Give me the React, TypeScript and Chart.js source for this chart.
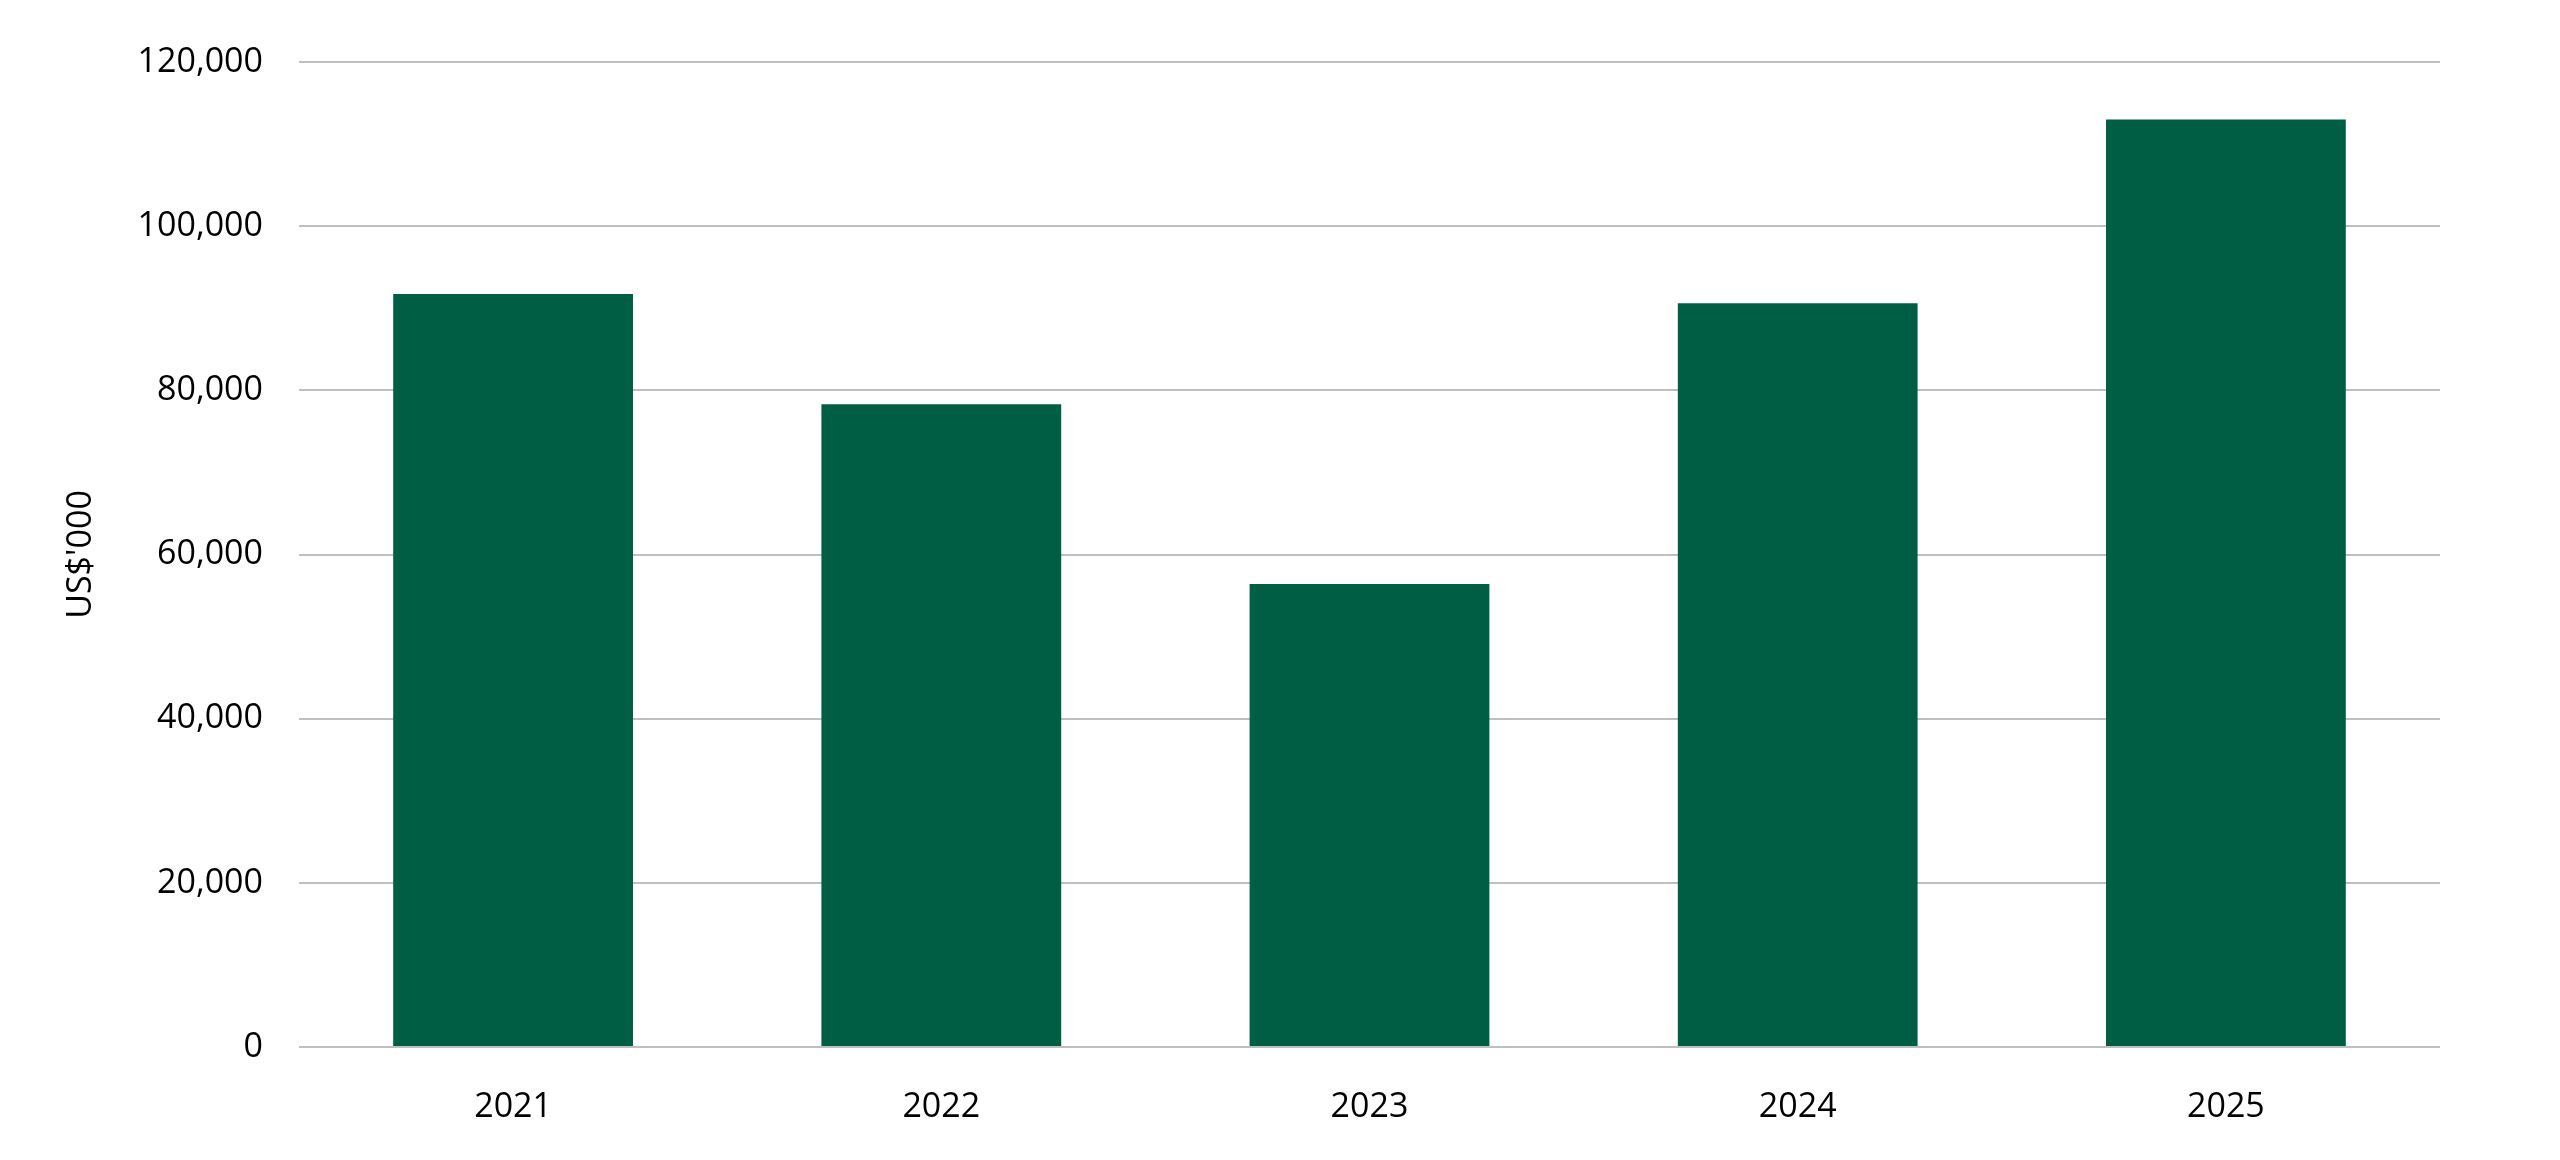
import { useEffect, useRef } from 'react';
import { Chart, registerables } from 'chart.js';

Chart.register(...registerables);

const years = ['2021', '2022', '2023', '2024', '2025'];
const values = [91750, 78300, 56400, 90600, 113000];
const yTicks = [0, 20000, 40000, 60000, 80000, 100000, 120000];

const FONT = '"Open Sans", "Noto Sans", sans-serif';

const App = () => {
  const canvasRef = useRef<HTMLCanvasElement | null>(null);
  const chartRef = useRef<Chart | null>(null);

  useEffect(() => {
    if (!canvasRef.current) return;
    document.body.style.margin = '0';

    chartRef.current?.destroy();

    chartRef.current = new Chart(canvasRef.current, {
      type: 'bar',
      data: {
        labels: years,
        datasets: [
          {
            label: "US$'000",
            data: values,
            backgroundColor: '#005e44',
            borderWidth: 0,
            categoryPercentage: 1,
            barPercentage: 0.56,
          },
        ],
      },
      options: {
        animation: false,
        responsive: true,
        maintainAspectRatio: false,
        layout: { padding: { top: 62, right: 120, left: 0, bottom: 0 } },
        plugins: {
          legend: { display: false },
          tooltip: { enabled: false },
        },
        scales: {
          x: {
            grid: { display: false, drawTicks: false },
            border: { display: false },
            ticks: {
              color: '#000000',
              padding: 40,
              font: { family: FONT, size: 34 },
            },
            afterFit: (scale: any) => {
              scale.height = 113;
            },
          },
          y: {
            min: 0,
            max: yTicks[yTicks.length - 1],
            afterBuildTicks: (scale: any) => {
              scale.ticks = yTicks.map((v) => ({ value: v }));
            },
            grid: { color: '#bfbfbf', lineWidth: 2, drawTicks: false },
            border: { display: false },
            ticks: {
              color: '#000000',
              padding: 36,
              font: { family: FONT, size: 34 },
              callback: (v: any) => Number(v).toLocaleString('en-US'),
            },
            title: {
              display: true,
              text: "US$'000",
              color: '#000000',
              font: { family: FONT, size: 34 },
              padding: { top: 61, bottom: 0 },
            },
            afterFit: (scale: any) => {
              scale.width = 299;
            },
          },
        },
      },
    });

    return () => chartRef.current?.destroy();
  }, []);

  return (
    <div style={{ position: 'fixed', left: 0, top: 0, width: '100vw', height: '100vh', background: '#ffffff' }}>
      <canvas ref={canvasRef} />
    </div>
  );
};

export default App;
